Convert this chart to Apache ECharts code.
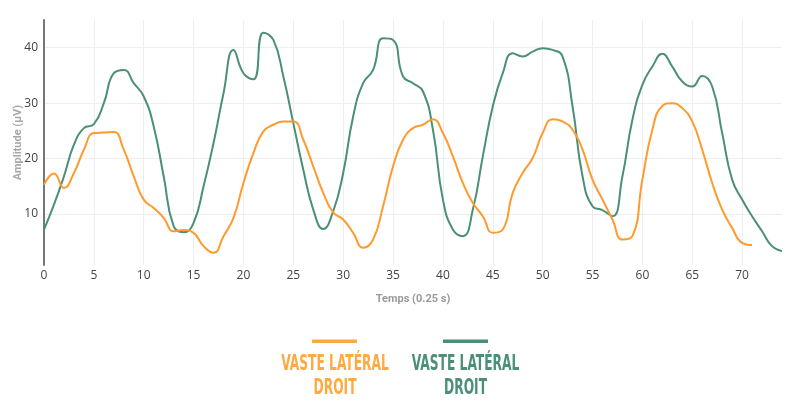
<!DOCTYPE html>
<html>
<head>
<meta charset="utf-8">
<script src="https://cdn.jsdelivr.net/npm/echarts@6/dist/echarts.min.js"></script>
<style>html,body{margin:0;padding:0;background:#fff}#c{width:800px;height:415px}</style>
</head>
<body>
<div id="c"></div>
<script>
var seriesNames = ['Vaste latéral droit', 'Vaste latéral droit'];
var legendLabels = ['VASTE LATÉRAL\nDROIT', 'VASTE LATÉRAL\nDROIT'];
var xTitle = 'Temps (0.25 s)';
var yTitle = 'Amplitude (µV)';

var orangeValues = [15.3,17.3,14.7,17.4,21.6,24.6,24.7,24.8,21.6,16.8,
  12.6,11.1,9.3,6.9,7.1,6.6,4.2,3.0,6.0,9.3,
  15.6,21.0,24.9,26.1,26.7,26.7,23.4,18.6,13.8,10.3,
  9.0,6.6,3.9,5.4,11.4,18.6,23.4,25.5,26.1,27.1,
  24.6,20.4,15.6,12.0,9.6,6.6,7.2,13.8,17.4,20.1,
  24.6,27.1,26.7,25.2,21.6,16.2,12.6,9.0,5.4,6.0,
  16.2,25.2,29.5,30.0,29.1,26.7,21.6,15.6,10.8,7.5,
  4.8,4.4];
var greenValues = [7.2,11.7,16.8,22.5,25.5,26.2,30.0,35.4,36.0,33.6,
  31.2,25.8,16.8,7.8,6.7,8.4,15.0,22.8,31.8,39.6,
  35.4,34.3,42.7,41.4,34.8,26.4,18.0,10.8,7.3,10.5,
  17.4,27.6,33.6,36.0,41.7,41.4,34.8,33.6,32.1,25.2,
  12.6,7.2,6.0,10.8,20.4,29.4,35.4,39.0,38.4,39.3,
  39.9,39.6,38.4,29.4,16.8,11.4,10.7,9.6,16.8,27.0,
  33.3,36.6,38.9,36.6,33.9,33.0,34.9,33.0,24.6,16.2,
  12.6,9.6,6.9,4.2,3.3];

var orange = '#ff9a2e', orangeLegend = '#ffa941';
var green = '#4b8f79';

function pairs(vals){ return vals.map(function(v,i){ return [i, v]; }); }

var chart = echarts.init(document.getElementById('c'), null, {renderer:'canvas'});
chart.setOption({
  animation: false,
  backgroundColor: '#fff',
  grid: {left: 44, right: 18, top: 20, bottom: 150, containLabel: false, outerBoundsMode: 'none'},
  xAxis: {
    type: 'value', min: 0, max: 74, interval: 5,
    name: xTitle, nameLocation: 'middle', nameGap: 29, nameMoveOverlap: false,
    nameTextStyle: {color: '#9a9a9a', fontSize: 11, fontWeight: 'bold', fontFamily: 'Roboto'},
    axisLine: {show: false}, axisTick: {show: false},
    axisLabel: {color: '#444', fontSize: 12, fontFamily: 'Open Sans', margin: 5, showMaxLabel: false},
    splitLine: {show: true, showMaxLine: false, lineStyle: {color: '#eeeeee', width: 1}}
  },
  yAxis: {
    type: 'value', min: 0.8, max: 45, splitNumber: 4,
    name: yTitle, nameLocation: 'middle', nameGap: 20, nameMoveOverlap: false,
    nameTextStyle: {color: '#a8a8a8', fontSize: 11, fontWeight: 'bold', fontFamily: 'Roboto'},
    axisLine: {show: true, lineStyle: {color: '#777', width: 2}}, axisTick: {show: false},
    axisLabel: {color: '#444', fontSize: 12, fontFamily: 'Open Sans', margin: 6, showMinLabel: false, showMaxLabel: false},
    splitLine: {show: true, showMinLine: false, showMaxLine: false, lineStyle: {color: '#eeeeee', width: 1}}
  },
  series: [
    {name: seriesNames[0], type: 'line', data: pairs(orangeValues), smooth: 0.5, symbol: 'none',
     lineStyle: {color: orange, width: 2}, z: 3},
    {name: seriesNames[1] + ' ', type: 'line', data: pairs(greenValues), smooth: 0.5, symbol: 'none',
     lineStyle: {color: green, width: 2}, z: 2}
  ],
  graphic: [
    {type: 'rect', shape: {x: 312, y: 339.5, width: 45, height: 3.5}, style: {fill: orangeLegend}},
    {type: 'text', x: 335, y: 352, scaleX: 0.62, style: {text: legendLabels[0], fill: orangeLegend,
      font: 'bold 22px "Liberation Sans Narrow", "DejaVu Sans Condensed", sans-serif', textAlign: 'center', lineHeight: 24}},
    {type: 'rect', shape: {x: 443, y: 339.5, width: 45, height: 3.5}, style: {fill: green}},
    {type: 'text', x: 465.5, y: 352, scaleX: 0.62, style: {text: legendLabels[1], fill: green,
      font: 'bold 22px "Liberation Sans Narrow", "DejaVu Sans Condensed", sans-serif', textAlign: 'center', lineHeight: 24}}
  ]
});
</script>
</body>
</html>
